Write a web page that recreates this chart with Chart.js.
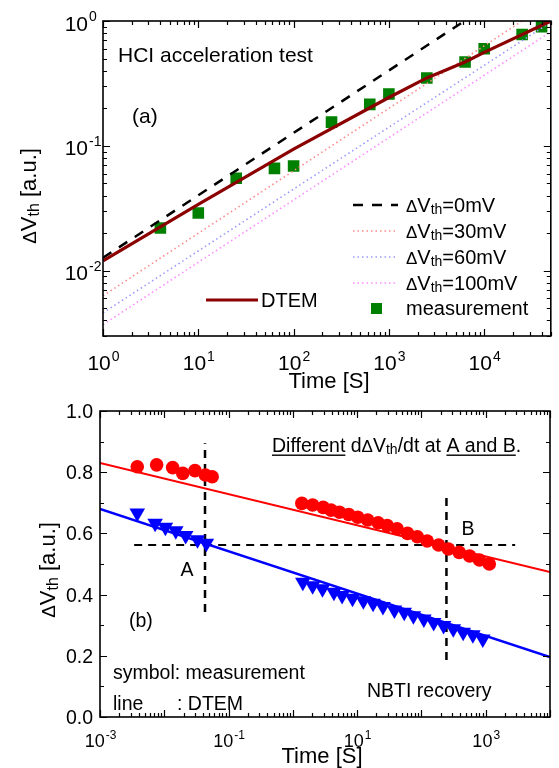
<!DOCTYPE html>
<html><head><meta charset="utf-8">
<script src="https://cdn.jsdelivr.net/npm/chart.js@4.4.0/dist/chart.umd.min.js"></script>
<style>
html,body{margin:0;padding:0;background:#fff;}
#wrap{position:relative;width:559px;height:768px;overflow:hidden;background:#fff;}
canvas{position:absolute;left:0;}
#c1{top:0;} #c2{top:400px;}
</style></head><body>
<div id="wrap"><canvas id="c1" width="559" height="400"></canvas><canvas id="c2" width="559" height="368"></canvas></div>
<script>
// ---------------- data: panel (a) ----------------
const measT = [4, 10, 25, 63, 100, 250, 630, 1000, 2500, 6300, 10000, 25000, 40000];
const measV = [0.022, 0.029, 0.055, 0.066, 0.069, 0.155, 0.215, 0.26, 0.35, 0.47, 0.60, 0.78, 0.90];
const dtemT = [1, 10, 100, 1000, 2500, 6300, 10000, 50000];
const dtemV = [0.012, 0.034, 0.094, 0.244, 0.35, 0.47, 0.56, 1.0];
const dv0T = [1, 6200];     const dv0V = [0.0127, 1.0];
const dv30T = [1, 25000];   const dv30V = [0.0063, 1.0];
const dv60T = [1, 50000];   const dv60V = [0.0046, 0.98];
const dv100T = [1, 50000];  const dv100V = [0.0037, 0.82];
const topXExp = [0, 1, 2, 3, 4];
const topYExp = [0, -1, -2];

// ---------------- data: panel (b) ----------------
const redT = [0.0038, 0.0076, 0.0135, 0.0194, 0.030, 0.0436, 0.0556, 1.38, 2.03, 2.96, 3.92, 5.31, 7.38, 10.2, 14.6, 21.2, 29.4, 41.8, 60.8, 86.4, 123, 185, 263, 387, 563, 800, 1137];
const redV = [0.818, 0.824, 0.815, 0.796, 0.805, 0.791, 0.785, 0.698, 0.693, 0.685, 0.676, 0.669, 0.662, 0.653, 0.644, 0.635, 0.626, 0.615, 0.600, 0.589, 0.575, 0.562, 0.549, 0.538, 0.526, 0.513, 0.500];
const blueT = [0.0038, 0.0072, 0.0104, 0.0151, 0.0215, 0.0329, 0.0451, 1.43, 2.03, 2.89, 4.35, 5.83, 8.47, 12.5, 17.7, 25.2, 38, 54, 75, 109, 155, 221, 313, 446, 631, 900];
const blueV = [0.667, 0.633, 0.620, 0.609, 0.593, 0.579, 0.568, 0.440, 0.429, 0.419, 0.408, 0.397, 0.388, 0.380, 0.372, 0.361, 0.350, 0.342, 0.331, 0.320, 0.309, 0.299, 0.288, 0.277, 0.269, 0.255];
const redLineT = [0.001, 10000];  const redLineV = [0.83, 0.474];
const blueLineT = [0.001, 10000]; const blueLineV = [0.68, 0.196];
const hDashT = [0.0034, 2870];    const hDashV = [0.562, 0.562];
const aDashT = [0.043, 0.043];    const aDashV = [0.343, 0.895];
const bDashT = [245, 245];        const bDashV = [0.186, 0.735];
const botXExp = [-3, -1, 1, 3];
const botYVals = [0, 0.2, 0.4, 0.6, 0.8, 1.0];
const botYLabels = ['0.0', '0.2', '0.4', '0.6', '0.8', '1.0'];

// ---------------- helpers ----------------
const FONT = '"Liberation Sans", Arial, Helvetica, sans-serif';
function pts(xs, ys) { return xs.map((x, i) => ({ x: x, y: ys[i] })); }

function rich(ctx, segs, x, y, align) {
  let w = 0;
  segs.forEach(s => { ctx.font = s.size + 'px ' + FONT; s.w = ctx.measureText(s.t).width; w += s.w; });
  let cx = align === 'center' ? x - w / 2 : (align === 'right' ? x - w : x);
  ctx.textAlign = 'left'; ctx.textBaseline = 'alphabetic';
  segs.forEach(s => {
    ctx.font = s.size + 'px ' + FONT;
    ctx.fillText(s.t, cx, y + (s.dy || 0));
    if (s.ul) ctx.fillRect(cx, y + s.ul, s.w, 1.4);
    cx += s.w;
  });
  return w;
}
function dvth(size, suffix) {
  return [{ t: 'Δ', size: Math.round(size * 0.85) }, { t: 'V', size: size }, { t: 'th', size: Math.round(size * 0.72), dy: size * 0.12 }, { t: suffix, size: size }];
}
function logVals(min, max) {
  const out = [];
  for (let k = Math.floor(Math.log10(min)) - 1; k <= Math.ceil(Math.log10(max)); k++)
    for (let m = 1; m < 10; m++) {
      const v = m * Math.pow(10, k);
      if (v >= min * 0.9999 && v <= max * 1.0001) out.push({ v: v, major: m === 1 });
    }
  return out;
}
function frameAndTicks(chart, xTicks, yTicks, maj, min) {
  const ctx = chart.ctx, a = chart.chartArea, sx = chart.scales.x, sy = chart.scales.y;
  ctx.save();
  ctx.strokeStyle = '#000'; ctx.lineWidth = 1.6;
  ctx.strokeRect(a.left, a.top, a.right - a.left, a.bottom - a.top);
  ctx.lineWidth = 1.2;
  ctx.beginPath();
  xTicks.forEach(t => {
    const px = Math.round(sx.getPixelForValue(t.v)) + 0.5, L = t.major ? maj : min;
    ctx.moveTo(px, a.bottom); ctx.lineTo(px, a.bottom - L);
    ctx.moveTo(px, a.top); ctx.lineTo(px, a.top + L);
  });
  yTicks.forEach(t => {
    const py = Math.round(sy.getPixelForValue(t.v)) + 0.5, L = t.major ? maj : min;
    ctx.moveTo(a.left, py); ctx.lineTo(a.left + L, py);
    ctx.moveTo(a.right, py); ctx.lineTo(a.right - L, py);
  });
  ctx.stroke();
  ctx.restore();
}
function supLabel(ctx, exp, x, y, size, center) {
  ctx.font = size + 'px ' + FONT;
  const wb = ctx.measureText('10').width;
  const es = Math.round(size * 0.68);
  ctx.font = es + 'px ' + FONT;
  const we = ctx.measureText(String(exp)).width;
  const left = center ? x - (wb + we) / 2 : x - wb;
  ctx.textAlign = 'left'; ctx.textBaseline = 'alphabetic';
  ctx.font = size + 'px ' + FONT; ctx.fillText('10', left, y);
  ctx.font = es + 'px ' + FONT; ctx.fillText(String(exp), left + wb + 1, y - size * 0.45);
}

const commonScale = (type, mn, mx) => ({
  type: type, min: mn, max: mx, display: true,
  grid: { display: false, drawTicks: false }, ticks: { display: false }, border: { display: false }, title: { display: false }
});

// ---------------- panel (a) ----------------
const plugA = {
  id: 'plugA',
  afterDraw(chart) {
    const ctx = chart.ctx, sx = chart.scales.x, sy = chart.scales.y;
    frameAndTicks(chart, logVals(1, 50000), logVals(0.003, 1), 7, 4);
    ctx.save();
    ctx.fillStyle = '#000';
    topXExp.forEach(e => supLabel(ctx, e, sx.getPixelForValue(Math.pow(10, e)), 370, 21, true));
    topYExp.forEach(e => supLabel(ctx, e, 88, sy.getPixelForValue(Math.pow(10, e)) + 9.5, 21, false));
    rich(ctx, [{ t: 'Time [S]', size: 22 }], 329, 388, 'center');
    ctx.save(); ctx.translate(36, 196); ctx.rotate(-Math.PI / 2);
    rich(ctx, dvth(22, ' [a.u.]'), 0, 0, 'center'); ctx.restore();
    rich(ctx, [{ t: 'HCI acceleration test', size: 21 }], 118, 62, 'left');
    rich(ctx, [{ t: '(a)', size: 21 }], 132, 123, 'left');
    ctx.strokeStyle = '#8b0000'; ctx.lineWidth = 3; ctx.setLineDash([]);
    ctx.beginPath(); ctx.moveTo(206, 300); ctx.lineTo(258, 300); ctx.stroke();
    rich(ctx, [{ t: 'DTEM', size: 20 }], 261, 307, 'left');
    const rows = [
      { y: 205, col: '#000', dash: [10, 9], w: 2.5, s: '=0mV' },
      { y: 231, col: '#ff8a8a', dash: [1.5, 3], w: 1.6, s: '=30mV' },
      { y: 257, col: '#9a9aff', dash: [1.5, 3], w: 1.6, s: '=60mV' },
      { y: 283, col: '#ff8cff', dash: [1.5, 3], w: 1.6, s: '=100mV' }
    ];
    rows.forEach(r => {
      ctx.strokeStyle = r.col; ctx.lineWidth = r.w; ctx.setLineDash(r.dash);
      ctx.beginPath(); ctx.moveTo(353, r.y); ctx.lineTo(398, r.y); ctx.stroke();
      ctx.setLineDash([]);
      rich(ctx, dvth(20, r.s), 406, r.y + 7, 'left');
    });
    ctx.fillStyle = '#008000'; ctx.fillRect(371, 303, 11, 11);
    ctx.fillStyle = '#000';
    rich(ctx, [{ t: 'measurement', size: 20 }], 406, 315, 'left');
    ctx.restore();
  }
};

new Chart(document.getElementById('c1'), {
  type: 'scatter',
  data: {
    datasets: [
      { label: 'DTEM', data: pts(dtemT, dtemV), showLine: true, borderColor: '#8b0000', borderWidth: 3.2, pointRadius: 0, tension: 0 },
      { label: 'ΔVth=0mV', data: pts(dv0T, dv0V), showLine: true, borderColor: '#000', borderWidth: 2.5, borderDash: [10, 9], pointRadius: 0 },
      { label: 'ΔVth=30mV', data: pts(dv30T, dv30V), showLine: true, borderColor: '#ff8a8a', borderWidth: 1.6, borderDash: [1.5, 3], pointRadius: 0 },
      { label: 'ΔVth=60mV', data: pts(dv60T, dv60V), showLine: true, borderColor: '#9a9aff', borderWidth: 1.6, borderDash: [1.5, 3], pointRadius: 0 },
      { label: 'ΔVth=100mV', data: pts(dv100T, dv100V), showLine: true, borderColor: '#ff8cff', borderWidth: 1.6, borderDash: [1.5, 3], pointRadius: 0 },
      { label: 'measurement', data: pts(measT, measV), showLine: false, pointStyle: 'rect', pointRadius: 8.2, backgroundColor: '#008000', borderColor: '#008000', borderWidth: 0 }
    ]
  },
  options: {
    responsive: false, animation: false, devicePixelRatio: 1,
    layout: { padding: { left: 103, top: 21, right: 2, bottom: 64 } },
    plugins: { legend: { display: false }, tooltip: { enabled: false } },
    scales: { x: commonScale('logarithmic', 1, 50000), y: commonScale('logarithmic', 0.003, 1) }
  },
  plugins: [plugA]
});

// ---------------- panel (b) ----------------
const linVals = () => { const o = []; for (let i = 0; i <= 10; i++) o.push({ v: i / 10, major: i % 2 === 0 }); return o; };
const plugB = {
  id: 'plugB',
  afterDraw(chart) {
    const ctx = chart.ctx, sx = chart.scales.x, sy = chart.scales.y;
    frameAndTicks(chart, logVals(0.001, 10000), linVals(), 7, 4);
    ctx.save(); ctx.fillStyle = '#000';
    botXExp.forEach(e => supLabel(ctx, e, sx.getPixelForValue(Math.pow(10, e)), 347, 18, true));
    botYVals.forEach((v, i) => rich(ctx, [{ t: botYLabels[i], size: 19.5 }], 93, sy.getPixelForValue(v) + 7, 'right'));
    rich(ctx, [{ t: 'Time [S]', size: 22 }], 322, 363, 'center');
    ctx.save(); ctx.translate(55, 170); ctx.rotate(-Math.PI / 2);
    rich(ctx, dvth(22, ' [a.u.]'), 0, 0, 'center'); ctx.restore();
    const d = dvth(19.5, '/dt at ');
    rich(ctx, [{ t: 'Different', size: 19.5, ul: 2.5 }, { t: ' d', size: 19.5 }].concat(d).concat([{ t: 'A and B', size: 19.5, ul: 2.5 }, { t: '.', size: 19.5 }]), 272, 52, 'left');
    rich(ctx, [{ t: 'A', size: 19.5 }], 187, 176, 'center');
    rich(ctx, [{ t: 'B', size: 19.5 }], 468, 135, 'center');
    rich(ctx, [{ t: '(b)', size: 19.5 }], 129, 227, 'left');
    rich(ctx, [{ t: 'symbol: measurement', size: 19.5 }], 113, 279, 'left');
    rich(ctx, [{ t: 'line', size: 19.5 }], 113, 310, 'left');
    rich(ctx, [{ t: ': DTEM', size: 19.5 }], 177, 310, 'left');
    rich(ctx, [{ t: 'NBTI recovery', size: 19.5 }], 367, 297, 'left');
    ctx.restore();
  }
};

new Chart(document.getElementById('c2'), {
  type: 'scatter',
  data: {
    datasets: [
      { label: 'red measurement', data: pts(redT, redV), showLine: false, pointStyle: 'circle', pointRadius: 6.8, backgroundColor: '#ff0000', borderColor: '#ff0000', borderWidth: 0 },
      { label: 'blue measurement', data: pts(blueT, blueV), showLine: false, pointStyle: 'triangle', rotation: 180, pointRadius: 9, backgroundColor: '#0000ff', borderColor: '#0000ff', borderWidth: 0 },
      { label: 'red DTEM', data: pts(redLineT, redLineV), showLine: true, borderColor: '#ff0000', borderWidth: 2, pointRadius: 0 },
      { label: 'blue DTEM', data: pts(blueLineT, blueLineV), showLine: true, borderColor: '#0000ff', borderWidth: 2.5, pointRadius: 0 },
      { label: 'h', data: pts(hDashT, hDashV), showLine: true, borderColor: '#000', borderWidth: 2, borderDash: [8, 6], pointRadius: 0 },
      { label: 'A', data: pts(aDashT, aDashV), showLine: true, borderColor: '#000', borderWidth: 2.5, borderDash: [8, 6], pointRadius: 0 },
      { label: 'B', data: pts(bDashT, bDashV), showLine: true, borderColor: '#000', borderWidth: 2.5, borderDash: [8, 6], pointRadius: 0 }
    ]
  },
  options: {
    responsive: false, animation: false, devicePixelRatio: 1,
    layout: { padding: { left: 100, top: 11, right: -3, bottom: 51 } },
    plugins: { legend: { display: false }, tooltip: { enabled: false } },
    scales: { x: commonScale('logarithmic', 0.001, 10000), y: commonScale('linear', 0, 1) }
  },
  plugins: [plugB]
});
</script>
</body></html>
